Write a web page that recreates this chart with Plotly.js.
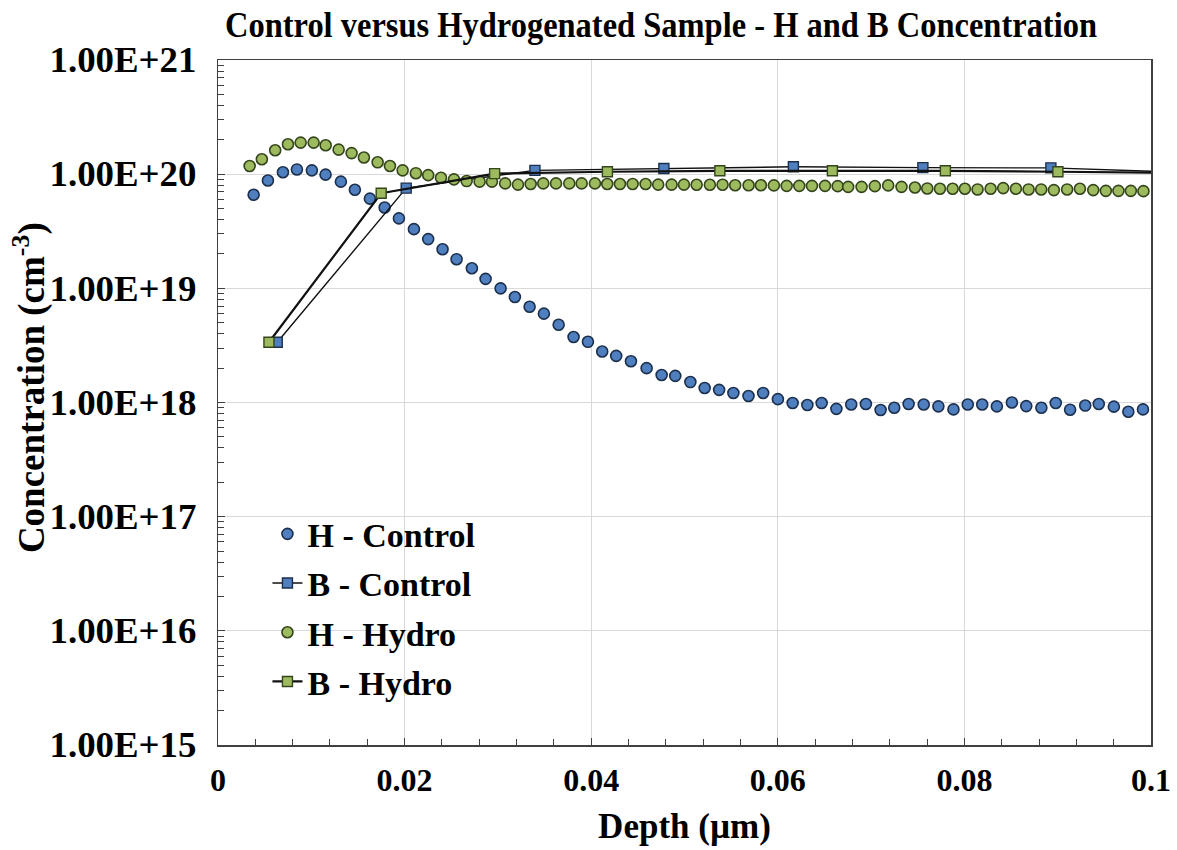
<!DOCTYPE html>
<html>
<head>
<meta charset="utf-8">
<script src="https://cdn.plot.ly/plotly-3.0.1.min.js"></script>
<style>html,body{margin:0;padding:0;background:#fff;}#chart{width:1177px;height:850px;}</style>
</head>
<body>
<div id="chart"></div>
<script>
// H - Control (depth in µm, concentration in cm^-3)
const hControlDepth = [0.00382,0.00535,0.00696,0.00846,0.01006,0.01153,0.01317,0.01467,0.01628,0.01786,0.01939,0.02100,0.02253,0.02407,0.02557,0.02721,0.02868,0.03029,0.03182,0.03340,0.03493,0.03651,0.03811,0.03965,0.04118,0.04268,0.04426,0.04594,0.04755,0.04901,0.05063,0.05216,0.05371,0.05524,0.05686,0.05843,0.06001,0.06159,0.06317,0.06470,0.06628,0.06787,0.06944,0.07102,0.07248,0.07402,0.07564,0.07721,0.07883,0.08036,0.08191,0.08348,0.08509,0.08663,0.08825,0.08979,0.09133,0.09295,0.09440,0.09602,0.09757,0.09914];
const hControlConc = [6.6e19,8.8e19,1.04e20,1.1e20,1.08e20,9.9e19,8.6e19,7.3e19,6.1e19,5.1e19,4.1e19,3.3e19,2.7e19,2.2e19,1.8e19,1.5e19,1.21e19,1.0e19,8.4e18,6.9e18,6.0e18,4.8e18,3.75e18,3.4e18,2.8e18,2.56e18,2.3e18,2.0e18,1.74e18,1.71e18,1.51e18,1.34e18,1.29e18,1.21e18,1.14e18,1.21e18,1.07e18,9.9e17,9.5e17,9.9e17,8.8e17,9.6e17,9.7e17,8.6e17,9.0e17,9.7e17,9.6e17,9.25e17,8.7e17,9.6e17,9.6e17,9.25e17,1.0e18,9.3e17,9.0e17,9.9e17,8.65e17,9.4e17,9.7e17,9.2e17,8.3e17,8.7e17];

// B - Control
const bControlDepth = [0.00635,0.02017,0.03397,0.04779,0.06167,0.07555,0.08927,0.1031];
const bControlConc = [3.37e18,7.55e19,1.08e20,1.12e20,1.16e20,1.14e20,1.135e20,1.04e20];

// H - Hydro
const hHydroDepth = [0.00339,0.00470,0.00613,0.00750,0.00886,0.01025,0.01154,0.01293,0.01432,0.01564,0.01711,0.01843,0.01979,0.02121,0.02253,0.02390,0.02529,0.02665,0.02804,0.02936,0.03078,0.03215,0.03351,0.03486,0.03623,0.03765,0.03898,0.04040,0.04172,0.04308,0.04444,0.04583,0.04718,0.04862,0.04994,0.05130,0.05272,0.05408,0.05543,0.05687,0.05819,0.05958,0.06095,0.06230,0.06366,0.06506,0.06642,0.06754,0.06898,0.07040,0.07183,0.07326,0.07470,0.07602,0.07738,0.07874,0.08005,0.08141,0.08281,0.08416,0.08552,0.08688,0.08823,0.08959,0.09101,0.09238,0.09381,0.09516,0.09651,0.09784,0.09919];
const hHydroConc = [1.18e20,1.35e20,1.62e20,1.83e20,1.89e20,1.89e20,1.79e20,1.64e20,1.53e20,1.40e20,1.27e20,1.18e20,1.08e20,1.02e20,9.8e19,9.3e19,9.0e19,8.7e19,8.6e19,8.6e19,8.3e19,8.1e19,8.2e19,8.3e19,8.3e19,8.3e19,8.3e19,8.3e19,8.2e19,8.2e19,8.2e19,8.2e19,8.1e19,8.1e19,8.1e19,8.07e19,8.07e19,8.07e19,8.0e19,8.0e19,8.0e19,7.97e19,7.9e19,7.9e19,7.9e19,7.9e19,7.85e19,7.74e19,7.74e19,7.85e19,7.97e19,7.74e19,7.65e19,7.5e19,7.45e19,7.45e19,7.45e19,7.35e19,7.45e19,7.55e19,7.45e19,7.35e19,7.35e19,7.25e19,7.35e19,7.45e19,7.25e19,7.14e19,7.14e19,7.14e19,7.1e19];

// B - Hydro
const bHydroDepth = [0.00546,0.01749,0.02965,0.04174,0.05379,0.06585,0.07796,0.09002,0.1021];
const bHydroConc = [3.37e18,6.8e19,1.01e20,1.05e20,1.07e20,1.07e20,1.07e20,1.05e20,1.03e20];

// Axis tick labels
const yTickVals = [1e15,1e16,1e17,1e18,1e19,1e20,1e21];
const yTickText = ['1.00E+15','1.00E+16','1.00E+17','1.00E+18','1.00E+19','1.00E+20','1.00E+21'];
const xTickVals = [0,0.02,0.04,0.06,0.08,0.1];
const xTickText = ['0','0.02','0.04','0.06','0.08','0.1'];

const blueFill = '#4f7fbf', blueEdge = '#1c2f4c';
const greenFill = '#9dbb5e', greenEdge = '#34451c';
const fontFam = '"Liberation Serif", "Times New Roman", serif';

const traces = [
  {name:'H - Control', x:hControlDepth, y:hControlConc, type:'scatter', mode:'markers', legendgroup:'a',
   marker:{symbol:'circle', size:11, color:blueFill, line:{color:blueEdge, width:1.6}}},
  {name:'B - Control', x:bControlDepth, y:bControlConc, type:'scatter', mode:'lines+markers', legendgroup:'b',
   line:{color:'#111', width:1.4}, marker:{symbol:'square', size:10, color:blueFill, line:{color:blueEdge, width:1.4}}},
  {name:'H - Hydro', x:hHydroDepth, y:hHydroConc, type:'scatter', mode:'markers', legendgroup:'c',
   marker:{symbol:'circle', size:11, color:greenFill, line:{color:greenEdge, width:1.6}}},
  {name:'B - Hydro', x:bHydroDepth, y:bHydroConc, type:'scatter', mode:'lines+markers', legendgroup:'d',
   line:{color:'#111', width:2.2}, marker:{symbol:'square', size:10, color:greenFill, line:{color:greenEdge, width:1.4}}}
];

const layout = {
  width:1177, height:850,
  paper_bgcolor:'#fff', plot_bgcolor:'#fff',
  margin:{l:218, r:26, t:60, b:105},
  font:{family:fontFam, color:'#000'},
  title:{text:'<b>Control versus Hydrogenated Sample - H and B Concentration</b>', x:0.5616, xanchor:'center', y:0.985, yanchor:'top',
         font:{family:fontFam, size:35, color:'#000'}},
  xaxis:{range:[0,0.1], tickvals:xTickVals, ticktext:xTickText, showgrid:true, gridcolor:'#d9d9d9', gridwidth:1.2,
         zeroline:false, showline:true, linecolor:'#404040', linewidth:1.5, mirror:true,
         ticks:'inside', ticklen:7, tickcolor:'#404040', ticklabelstandoff:6,
         tickfont:{family:fontFam, size:32, color:'#000', weight:'bold'},
         minor:{dtick:0.004, ticks:'inside', ticklen:6, tickcolor:'#404040', showgrid:false},
         title:{text:'<b>Depth (µm)</b>', font:{family:fontFam, size:35, color:'#000'}, standoff:16}},
  yaxis:{type:'log', range:[15,21], tickvals:yTickVals, ticktext:yTickText, showgrid:true, gridcolor:'#d9d9d9', gridwidth:1.2,
         zeroline:false, showline:true, linecolor:'#404040', linewidth:1.5, mirror:true,
         ticks:'inside', ticklen:7, tickcolor:'#404040', ticklabelstandoff:13,
         tickfont:{family:fontFam, size:35, color:'#000', weight:'bold'},
         minor:{dtick:'D1', ticks:'inside', ticklen:6, tickcolor:'#404040', showgrid:false}},
  annotations:[{text:'<b>Concentration (cm<sup>-3</sup>)</b>', xref:'paper', yref:'paper', x:-0.2015, y:0.521,
                xanchor:'center', yanchor:'middle', textangle:-90, showarrow:false,
                font:{family:fontFam, size:37, color:'#000'}}],
  showlegend:true,
  legend:{x:0.053, y:0.35, xanchor:'left', yanchor:'top', bgcolor:'rgba(0,0,0,0)', borderwidth:0,
          font:{family:fontFam, size:34, color:'#000', weight:'bold'}, tracegroupgap:2, itemwidth:30}
};

Plotly.newPlot('chart', traces, layout, {displayModeBar:false, staticPlot:true}).then(function(){
  document.querySelectorAll('.ytick text').forEach(function(t){
    t.setAttribute('textLength', '147');
    t.setAttribute('lengthAdjust', 'spacingAndGlyphs');
  });
  const tt = document.querySelector('.gtitle');
  if (tt) { tt.setAttribute('textLength', '872'); tt.setAttribute('lengthAdjust', 'spacingAndGlyphs'); }
});
</script>
</body>
</html>
